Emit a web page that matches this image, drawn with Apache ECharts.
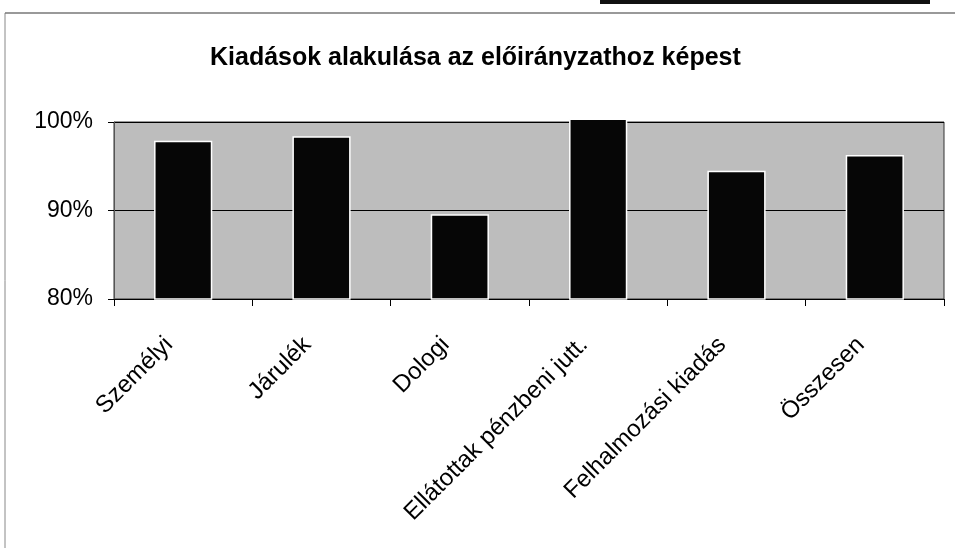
<!DOCTYPE html>
<html>
<head>
<meta charset="utf-8">
<script src="https://cdn.jsdelivr.net/npm/echarts@6/dist/echarts.min.js"></script>
<style>
html,body{margin:0;padding:0;background:#fff;}
#chart{width:955px;height:548px;}
</style>
</head>
<body>
<div id="chart"></div>
<script>
var categories = ['Személyi', 'Járulék', 'Dologi', 'Ellátottak pénzbeni jutt.', 'Felhalmozási kiadás', 'Összesen'];
var values = [97.8, 98.3, 89.5, 100.3, 94.4, 96.2];
var yTicks = [80, 90, 100];
var titleText = 'Kiadások alakulása az előirányzathoz képest';
var baseValue = 80;

var chart = echarts.init(document.getElementById('chart'), null, {renderer: 'canvas'});
chart.setOption({
  backgroundColor: '#ffffff',
  animation: false,
  title: {
    text: titleText,
    left: 205,
    top: 41,
    textStyle: {fontFamily: 'Liberation Sans, Arial, sans-serif', fontSize: 25, fontWeight: 'bold', color: '#000'}
  },
  graphic: [
    {type: 'line', shape: {x1: 5, y1: 13, x2: 5, y2: 548}, style: {stroke: '#888', lineWidth: 1}},
    {type: 'line', shape: {x1: 5, y1: 13, x2: 955, y2: 13}, style: {stroke: '#777', lineWidth: 1.5}},
    {type: 'rect', shape: {x: 600, y: 0, width: 330, height: 4}, style: {fill: '#111'}}
  ],
  grid: {
    left: 114, right: 11, top: 122, bottom: 249,
    show: true,
    backgroundColor: '#bdbdbd',
    borderColor: '#333',
    borderWidth: 1
  },
  xAxis: {
    type: 'category',
    data: categories,
    boundaryGap: true,
    axisLine: {show: true, lineStyle: {color: '#000', width: 1}},
    axisTick: {show: true, alignWithLabel: false, length: 7, lineStyle: {color: '#000'}},
    axisLabel: {
      interval: 0,
      rotate: 45,
      margin: 28,
      padding: [0, 20, 0, 0],
      fontFamily: 'Liberation Sans, Arial, sans-serif',
      fontSize: 24,
      color: '#000'
    }
  },
  yAxis: {
    type: 'value',
    min: 80,
    max: 100,
    interval: 10,
    axisLine: {show: true, lineStyle: {color: '#555'}},
    axisTick: {show: true, length: 6, lineStyle: {color: '#000'}},
    splitLine: {show: true, lineStyle: {color: '#000', width: 1}},
    axisLabel: {
      margin: 21,
      formatter: function (v) { return yTicks.indexOf(v) >= 0 ? v + '%' : ''; },
      fontFamily: 'Liberation Sans, Arial, sans-serif',
      fontSize: 23,
      color: '#000'
    }
  },
  series: [{
    type: 'custom',
    clip: false,
    data: values.map(function (v, i) { return [i, v]; }),
    encode: {x: 0, y: 1},
    renderItem: function (params, api) {
      var idx = api.value(0);
      var top = api.coord([idx, api.value(1)]);
      var bottom = api.coord([idx, baseValue]);
      var w = api.size([1, 0])[0] * 0.41;
      return {
        type: 'rect',
        shape: {x: top[0] - w / 2, y: top[1], width: w, height: bottom[1] - top[1]},
        style: {fill: '#060606', stroke: '#ffffff', lineWidth: 1.5}
      };
    }
  }]
});
</script>
</body>
</html>
